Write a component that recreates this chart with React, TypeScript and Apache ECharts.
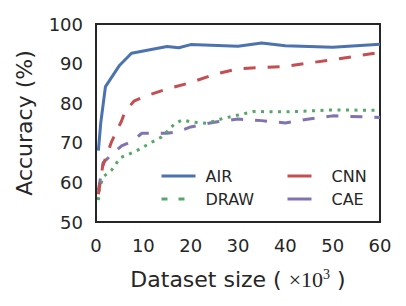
import React, { useEffect, useRef } from "react";
import * as echarts from "echarts";

const xTicks = [0, 10, 20, 30, 40, 50, 60];
const yTicks = [50, 60, 70, 80, 90, 100];

const airData: [number, number][] = [
  [0.5, 68], [1, 75], [2, 84.2], [5, 89.6], [7.5, 92.6], [10, 93.2], [15, 94.3],
  [17.5, 94.0], [20, 94.8], [30, 94.4], [35, 95.2], [40, 94.5], [50, 94.1], [60, 94.9],
];
const cnnData: [number, number][] = [
  [0.5, 57], [1.4, 64], [3.3, 70.3], [5.4, 75.5], [6.1, 77.8], [8, 80.5], [10, 81.6],
  [15, 83.6], [20, 85.2], [25, 87.3], [30, 88.7], [40, 89.3], [50, 91], [60, 92.8],
];
const drawData: [number, number][] = [
  [0.5, 55.5], [0.7, 58.4], [1.5, 61.4], [3.3, 63.1], [5.1, 66.2], [8.6, 68], [11.4, 69.9],
  [13.9, 71.5], [16.7, 74.9], [18.3, 75.8], [20, 75.3], [23.4, 74.9], [27, 76.2], [30, 77],
  [33.3, 77.9], [40, 77.8], [50, 78.3], [60, 78.2],
];
const caeData: [number, number][] = [
  [0.5, 58], [1.5, 65], [3.3, 67], [5.4, 69.2], [7.5, 70.3], [9.7, 72.4], [15, 72.4],
  [17, 72.7], [20, 74], [25, 75.2], [30, 76], [35, 75.6], [40, 75], [45, 76], [50, 76.8], [60, 76.4],
];

const seriesNames = ["AIR", "CNN", "DRAW", "CAE"];
const seriesColors = ["#4C72B0", "#C44E52", "#55A868", "#8172B2"];

const TEXT = "#262626";
const FONT = "DejaVu Sans";

export default function App() {
  const ref = useRef<HTMLDivElement>(null);
  useEffect(() => {
    if (!ref.current) return;
    const chart = echarts.init(ref.current, undefined, { renderer: "svg" });
    const datas = [airData, cnnData, drawData, caeData];
    const dashes: any[] = ["solid", [12, 12], [3, 5.5], [12, 12]];
    const legendDashes: any[] = ["solid", [24, 24], [6, 11], [24, 24]];
    const legendItem = (name: string) => {
      const i = seriesNames.indexOf(name);
      return { name, lineStyle: { width: 3, type: legendDashes[i], color: seriesColors[i] } };
    };
    const legendBase = {
      orient: "vertical" as const,
      top: 168,
      padding: 0,
      itemWidth: 34,
      itemHeight: 16,
      itemGap: 7,
      itemStyle: { opacity: 0 },
      lineStyle: { width: 3 },
      textStyle: { fontSize: 16, color: TEXT, fontFamily: FONT, padding: [0, 0, 0, 5] },
    };
    chart.setOption({
      animation: false,
      backgroundColor: "#ffffff",
      grid: {
        left: 96, right: 26, top: 24, bottom: 84,
        show: true, borderColor: TEXT, borderWidth: 2, backgroundColor: "transparent",
      },
      legend: [
        { ...legendBase, left: 160, data: [legendItem("AIR"), legendItem("DRAW")] },
        { ...legendBase, left: 286, data: [legendItem("CNN"), legendItem("CAE")] },
      ],
      xAxis: {
        type: "value",
        min: xTicks[0], max: xTicks[xTicks.length - 1], interval: 10,
        axisLine: { show: false }, axisTick: { show: false }, splitLine: { show: false },
        axisLabel: { fontSize: 18, color: TEXT, fontFamily: FONT, margin: 14 },
        name: "Dataset size ( {m|×10}{s|3} )",
        nameLocation: "middle",
        nameGap: 45,
        nameTextStyle: {
          fontSize: 22, color: TEXT, fontFamily: FONT,
          rich: {
            m: { fontSize: 22, color: TEXT, fontFamily: "Liberation Serif" },
            s: { fontSize: 14, color: TEXT, fontFamily: "Liberation Serif", padding: [0, 0, 10, 0] },
          },
        },
      },
      yAxis: {
        type: "value",
        min: yTicks[0], max: yTicks[yTicks.length - 1], interval: 10,
        axisLine: { show: false }, axisTick: { show: false }, splitLine: { show: false },
        axisLabel: { fontSize: 18, color: TEXT, fontFamily: FONT, margin: 13 },
        name: "Accuracy (%)",
        nameLocation: "middle",
        nameGap: 61,
        nameTextStyle: { fontSize: 22, color: TEXT, fontFamily: FONT },
      },
      series: seriesNames.map((n, i) => ({
        name: n,
        type: "line",
        data: datas[i],
        showSymbol: false,
        symbol: "none",
        smooth: false,
        color: seriesColors[i],
        lineStyle: { width: 3, color: seriesColors[i], type: dashes[i], cap: "butt" },
        z: 4 - i,
      })),
    });
    return () => chart.dispose();
  }, []);
  return <div ref={ref} style={{ width: 406, height: 306, margin: -8 }} />;
}
